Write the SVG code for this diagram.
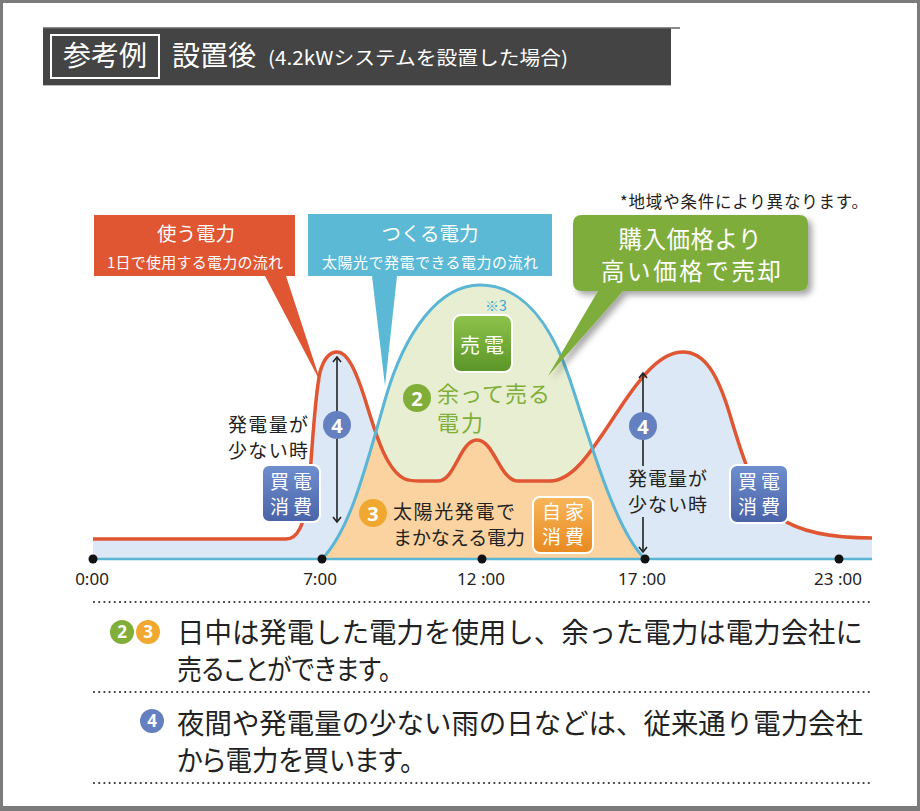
<svg xmlns="http://www.w3.org/2000/svg" width="920" height="811" viewBox="0 0 920 811">
<defs>
<style>
.t{font-family:"Noto Sans CJK JP","Noto Sans",sans-serif;}
.w{fill:#fff;}
.k{fill:#222;}
.num{font-family:"Noto Sans","Noto Sans CJK JP",sans-serif;font-weight:bold;fill:#fff;text-anchor:middle;}
.dot{fill:#111;}
.ax{font-family:"Noto Sans","Noto Sans CJK JP",sans-serif;font-size:17px;fill:#222;text-anchor:middle;}
.sep{stroke:#333;stroke-width:2.2;stroke-linecap:round;stroke-dasharray:0 5.2;fill:none;}
.arr{stroke:#222;stroke-width:1.6;fill:none;marker-start:url(#ah);marker-end:url(#ah);}
.box{stroke:#fff;stroke-width:2;}
</style>
<marker id="ah" viewBox="0 0 8 10" refX="6" refY="5" markerWidth="8" markerHeight="10" markerUnits="userSpaceOnUse" orient="auto-start-reverse">
<path d="M1,1 L6,5 L1,9" fill="none" stroke="#222" stroke-width="1.6"/>
</marker>
<linearGradient id="gBlue" x1="0" y1="0" x2="0" y2="1"><stop offset="0" stop-color="#6f8fcf"/><stop offset="1" stop-color="#4a63a8"/></linearGradient>
<linearGradient id="gGreen" x1="0" y1="0" x2="0" y2="1"><stop offset="0" stop-color="#8ec34c"/><stop offset="1" stop-color="#5a9528"/></linearGradient>
<linearGradient id="gOrange" x1="0" y1="0" x2="0" y2="1"><stop offset="0" stop-color="#f8b65a"/><stop offset="1" stop-color="#e8891f"/></linearGradient>
<filter id="sh" x="-10%" y="-10%" width="130%" height="140%">
<feDropShadow dx="4" dy="4" stdDeviation="3" flood-color="#000" flood-opacity="0.35"/>
</filter>
<clipPath id="bell">
<path d="M322,559 C350,530 365,470 385,400 C405,330 440,285 480,285 C520,285 550,320 570,380 C590,440 615,530 645,559 Z"/>
</clipPath>
<path id="redArea" d="M93,539 L286,539 C298,539 304,525 308,495 C312,460 314,400 320,372 C324,358 330,352 337,352 C348,352 356,372 364,396 C374,428 385,470 405,479 C410,481 415,481 420,481 L438,481 C455,481 460,440 477,440 C494,440 500,481 518,481 L550,481 C575,481 595,445 620,408 C640,378 660,352 683,352 C705,352 718,375 730,415 C742,455 755,500 780,518 C800,532 830,538 872,538 L872,559 L93,559 Z"/>
</defs>

<rect x="0" y="0" width="920" height="811" fill="#fff"/>
<g id="frame">
<path d="M1.5,1.5 H918.5 V808.5 H1.5 Z" fill="none" stroke="#7b7b7b" stroke-width="3"/>
<rect x="0" y="806" width="920" height="5" fill="#7b7b7b"/>
</g>

<g id="header">
<rect x="43" y="28" width="628" height="57" fill="#444"/>
<line x1="43" y1="28" x2="680" y2="28" stroke="#666" stroke-width="1.5"/>
<line x1="43" y1="85.5" x2="671" y2="85.5" stroke="#bbb" stroke-width="1"/>
<rect x="51" y="35" width="108" height="43" fill="none" stroke="#fff" stroke-width="2"/>
<text class="t w" x="105" y="66" font-size="28" text-anchor="middle">参考例</text>
<text class="t w" x="172" y="66" font-size="28">設置後</text>
<text class="t w" x="268" y="65" font-size="19" textLength="300" lengthAdjust="spacingAndGlyphs">(4.2kWシステムを設置した場合)</text>
</g>

<text id="note" class="t k" x="620" y="208" font-size="16.5" textLength="248">*地域や条件により異なります。</text>

<g id="chart">
<use href="#redArea" fill="#dce8f5"/>
<path d="M322,559 C350,530 365,470 385,400 C405,330 440,285 480,285 C520,285 550,320 570,380 C590,440 615,530 645,559 Z" fill="#e7eed1"/>
<use href="#redArea" fill="#fbd3a0" clip-path="url(#bell)"/>
<path d="M93,539 L286,539 C298,539 304,525 308,495 C312,460 314,400 320,372 C324,358 330,352 337,352 C348,352 356,372 364,396 C374,428 385,470 405,479 C410,481 415,481 420,481 L438,481 C455,481 460,440 477,440 C494,440 500,481 518,481 L550,481 C575,481 595,445 620,408 C640,378 660,352 683,352 C705,352 718,375 730,415 C742,455 755,500 780,518 C800,532 830,538 872,538" fill="none" stroke="#e05633" stroke-width="3.5"/>
<path d="M322,559 C350,530 365,470 385,400 C405,330 440,285 480,285 C520,285 550,320 570,380 C590,440 615,530 645,559" fill="none" stroke="#5ab6d4" stroke-width="3"/>
<line x1="93" y1="559" x2="872" y2="559" stroke="#5ab6d4" stroke-width="2.5"/>
</g>

<g id="axis">
<circle class="dot" cx="93" cy="559" r="4.5"/>
<circle class="dot" cx="322" cy="559" r="4.5"/>
<circle class="dot" cx="482" cy="559" r="4.5"/>
<circle class="dot" cx="645" cy="559" r="4.5"/>
<circle class="dot" cx="839" cy="559" r="4.5"/>
<text class="ax" x="92" y="585">0:00</text>
<text class="ax" x="320" y="585">7:00</text>
<text class="ax" x="481" y="585">12 :00</text>
<text class="ax" x="642" y="585">17 :00</text>
<text class="ax" x="838" y="585">23 :00</text>
</g>

<g id="connectors">
<path class="arr" d="M337,357 L337,522"/>
<path class="arr" d="M643,373 L643,466 M643,517 L643,552"/>
</g>

<g id="callout-use">
<path d="M94,215 H295 V276 H286 L321,383 L265,276 H94 Z" fill="#e05633"/>
<text class="t w" text-anchor="middle"><tspan x="196" y="241" font-size="19.5">使う電力</tspan><tspan x="195" y="268" font-size="15" textLength="176">1日で使用する電力の流れ</tspan></text>
</g>

<g id="callout-make">
<path d="M308,214 H552 V276 H397 L385,386 L372,276 H308 Z" fill="#5cb9d6"/>
<text class="t w" text-anchor="middle"><tspan x="430" y="241" font-size="19.5">つくる電力</tspan><tspan x="430" y="268" font-size="15" textLength="216">太陽光で発電できる電力の流れ</tspan></text>
</g>

<g id="callout-sell">
<path d="M582,215 H799 Q808,215 808,224 V282 Q808,291 799,291 H623 L548,376 L598,291 H582 Q573,291 573,282 V224 Q573,215 582,215 Z" fill="#7fad3a" filter="url(#sh)"/>
<text class="t w" font-size="23.5" text-anchor="middle"><tspan x="690" y="248" textLength="143">購入価格より</tspan><tspan x="691" y="280" textLength="180">高い価格で売却</tspan></text>
</g>

<g id="sell-box">
<text class="t" x="485" y="311" font-size="14" fill="#3aa8cc">※3</text>
<rect class="box" x="453" y="315" width="59" height="57" rx="8" fill="url(#gGreen)"/>
<text class="t w" x="484" y="353" font-size="20" text-anchor="middle" letter-spacing="4">売電</text>
</g>

<g id="surplus">
<circle cx="417" cy="398" r="14" fill="#80ae38"/>
<text class="num" x="417" y="405.5" font-size="20">2</text>
<text class="t" font-size="22" fill="#80ae38"><tspan x="437" y="402" textLength="113">余って売る</tspan><tspan x="437" y="431" textLength="46">電力</tspan></text>
</g>

<g id="self">
<circle cx="373" cy="513" r="14" fill="#f0a830"/>
<text class="num" x="373" y="520.5" font-size="20">3</text>
<text class="t k" font-size="19"><tspan x="393" y="519" textLength="122">太陽光発電で</tspan><tspan x="393" y="545" textLength="132">まかなえる電力</tspan></text>
<rect class="box" x="533" y="497" width="60" height="56" rx="7" fill="url(#gOrange)"/>
<text class="t w" font-size="19" text-anchor="middle" letter-spacing="4"><tspan x="565" y="519">自家</tspan><tspan x="565" y="544">消費</tspan></text>
</g>

<g id="buy-left">
<circle cx="337" cy="425" r="14" fill="#6580c0"/>
<text class="num" x="337" y="432.5" font-size="20">4</text>
<text class="t k" font-size="19"><tspan x="228" y="432" textLength="80">発電量が</tspan><tspan x="228" y="458" textLength="80">少ない時</tspan></text>
<rect class="box" x="262" y="465" width="58" height="57" rx="7" fill="url(#gBlue)"/>
<text class="t w" font-size="19" text-anchor="middle" letter-spacing="4"><tspan x="293" y="489">買電</tspan><tspan x="293" y="514">消費</tspan></text>
</g>

<g id="buy-right">
<circle cx="643" cy="426" r="14" fill="#6580c0"/>
<text class="num" x="643" y="433.5" font-size="20">4</text>
<text class="t k" font-size="19"><tspan x="628" y="486" textLength="79">発電量が</tspan><tspan x="628" y="512" textLength="79">少ない時</tspan></text>
<rect class="box" x="730" y="465" width="58" height="58" rx="7" fill="url(#gBlue)"/>
<text class="t w" font-size="19" text-anchor="middle" letter-spacing="4"><tspan x="761" y="489">買電</tspan><tspan x="761" y="514">消費</tspan></text>
</g>

<g id="notes">
<line class="sep" x1="94" y1="602" x2="872" y2="602"/>
<line class="sep" x1="94" y1="692" x2="872" y2="692"/>
<line class="sep" x1="94" y1="783" x2="872" y2="783"/>
<circle cx="122" cy="632" r="12" fill="#80ae38"/>
<text class="num" x="122" y="638" font-size="17">2</text>
<circle cx="148" cy="632" r="12" fill="#f0a830"/>
<text class="num" x="148" y="638" font-size="17">3</text>
<text class="t k" font-size="28"><tspan x="177" y="643" textLength="686" lengthAdjust="spacingAndGlyphs">日中は発電した電力を使用し、余った電力は電力会社に</tspan><tspan x="177" y="680" textLength="214" lengthAdjust="spacingAndGlyphs" style="font-feature-settings:'palt'">売ることができます。</tspan></text>
<circle cx="152" cy="721" r="12" fill="#6580c0"/>
<text class="num" x="152" y="727" font-size="17">4</text>
<text class="t k" font-size="28"><tspan x="177" y="734" textLength="686" lengthAdjust="spacingAndGlyphs">夜間や発電量の少ない雨の日などは、従来通り電力会社</tspan><tspan x="177" y="771" textLength="236" lengthAdjust="spacingAndGlyphs" style="font-feature-settings:'palt'">から電力を買います。</tspan></text>
</g>
</svg>
